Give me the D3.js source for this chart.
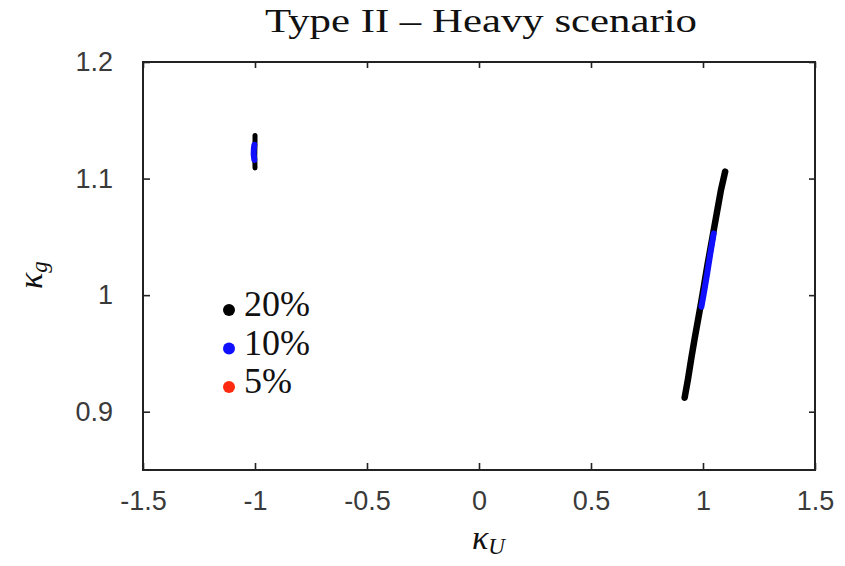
<!DOCTYPE html>
<html>
<head>
<meta charset="utf-8">
<script src="https://cdn.jsdelivr.net/npm/d3@7"></script>
<style>
  body { margin: 0; background: #fff; }
  .tick text { font-family: "Liberation Sans", Arial, sans-serif; font-size: 27px; fill: #3a3a3a; }
  .tick line { stroke: #222; stroke-width: 1.6; }
  .serif { font-family: "Liberation Serif", "Times New Roman", serif; fill: #111; }
</style>
</head>
<body>
<div id="chart"></div>
<script>
var svgWidth = 845;
var svgHeight = 566;

var margin = {top: 62, right: 30, bottom: 96, left: 143};
var width = 815 - margin.left;
var height = 470 - margin.top;

// tick values
var xTicks = [-1.5, -1, -0.5, 0, 0.5, 1, 1.5];
var yTicks = [0.9, 1.0, 1.1, 1.2];

// allowed regions (kappa_U, kappa_g)
var black20Right = [[0.918, 0.912], [0.933, 0.928], [0.948, 0.946], [0.963, 0.963],
  [0.978, 0.979], [0.992, 0.994], [1.006, 1.010], [1.020, 1.026], [1.035, 1.042],
  [1.050, 1.058], [1.065, 1.074], [1.080, 1.090], [1.099, 1.106]];
var blue10Right = [[0.993, 0.990], [1.006, 1.004], [1.019, 1.019], [1.033, 1.036], [1.048, 1.053]];
var black20Left = [[-1.000, 1.109], [-1.001, 1.120], [-1.000, 1.130], [-1.000, 1.137]];
var blue10Left = [[-1.003, 1.116], [-1.006, 1.121], [-1.005, 1.126], [-1.003, 1.129]];

var legendLabels = ["20%", "10%", "5%"];
var legendColors = ["#000000", "#1010ff", "#ff2a10"];

var svg = d3.select("#chart")
  .append("svg")
  .attr("width", svgWidth)
  .attr("height", svgHeight);

var chartGroup = svg.append("g")
  .attr("transform", `translate(${margin.left}, ${margin.top})`);

var xScale = d3.scaleLinear().domain([-1.5, 1.5]).range([0, width]);
var yScale = d3.scaleLinear().domain([0.85, 1.2]).range([height, 0]);

// axes, ticks pointing inwards
var bottomAxis = d3.axisBottom(xScale).tickValues(xTicks).tickSize(-7).tickPadding(21)
  .tickFormat(d => String(d));
var leftAxis = d3.axisLeft(yScale).tickValues(yTicks).tickSize(-7).tickPadding(30)
  .tickFormat(d => d === 1 ? "1" : d.toFixed(1));

chartGroup.append("g")
  .attr("transform", `translate(0, ${height})`)
  .call(bottomAxis)
  .call(g => g.select(".domain").remove())
  .selectAll("text").attr("dy", "0.71em");

chartGroup.append("g")
  .call(leftAxis)
  .call(g => g.select(".domain").remove());

// mirror ticks
chartGroup.append("g")
  .call(d3.axisTop(xScale).tickValues(xTicks).tickSize(-6).tickFormat(""))
  .call(g => g.select(".domain").remove());
chartGroup.append("g")
  .attr("transform", `translate(${width}, 0)`)
  .call(d3.axisRight(yScale).tickValues(yTicks).tickSize(-6).tickFormat(""))
  .call(g => g.select(".domain").remove());

// frame
chartGroup.append("rect")
  .attr("width", width)
  .attr("height", height)
  .attr("fill", "none")
  .attr("stroke", "#222")
  .attr("stroke-width", 2);

var line = d3.line()
  .x(d => xScale(d[0]))
  .y(d => yScale(d[1]));

function drawRegion(data, color, w) {
  chartGroup.append("path")
    .datum(data)
    .attr("d", line)
    .attr("fill", "none")
    .attr("stroke", color)
    .attr("stroke-width", w)
    .attr("stroke-linecap", "round")
    .attr("stroke-linejoin", "round");
}

drawRegion(black20Right, legendColors[0], 6.5);
drawRegion(blue10Right, legendColors[1], 6);
drawRegion(black20Left, legendColors[0], 5);
drawRegion(blue10Left, legendColors[1], 6);

// legend
var legend = svg.append("g");
legendLabels.forEach(function(label, i) {
  legend.append("circle")
    .attr("cx", 229)
    .attr("cy", 310 + i * 38.5)
    .attr("r", 6)
    .attr("fill", legendColors[i]);
  legend.append("text")
    .attr("class", "serif")
    .attr("x", 244)
    .attr("y", 316 + i * 38.5)
    .attr("font-size", 36)
    .text(label);
});

// title
svg.append("text")
  .attr("class", "serif")
  .attr("x", 481)
  .attr("y", 32)
  .attr("text-anchor", "middle")
  .attr("font-size", 33)
  .attr("textLength", 432)
  .attr("lengthAdjust", "spacingAndGlyphs")
  .text("Type II \u2013 Heavy scenario");

// x axis label
var xLabel = svg.append("text")
  .attr("class", "serif")
  .attr("x", 472)
  .attr("y", 549)
  .attr("font-size", 34)
  .attr("font-style", "italic");
xLabel.append("tspan").text("\u03ba");
xLabel.append("tspan").attr("dy", 5).attr("font-size", 23).text("U");

// y axis label
var yLabel = svg.append("text")
  .attr("class", "serif")
  .attr("transform", "translate(42, 289) rotate(-90)")
  .attr("font-size", 34)
  .attr("font-style", "italic");
yLabel.append("tspan").text("\u03ba");
yLabel.append("tspan").attr("dy", 5).attr("font-size", 23).text("g");
</script>
</body>
</html>
